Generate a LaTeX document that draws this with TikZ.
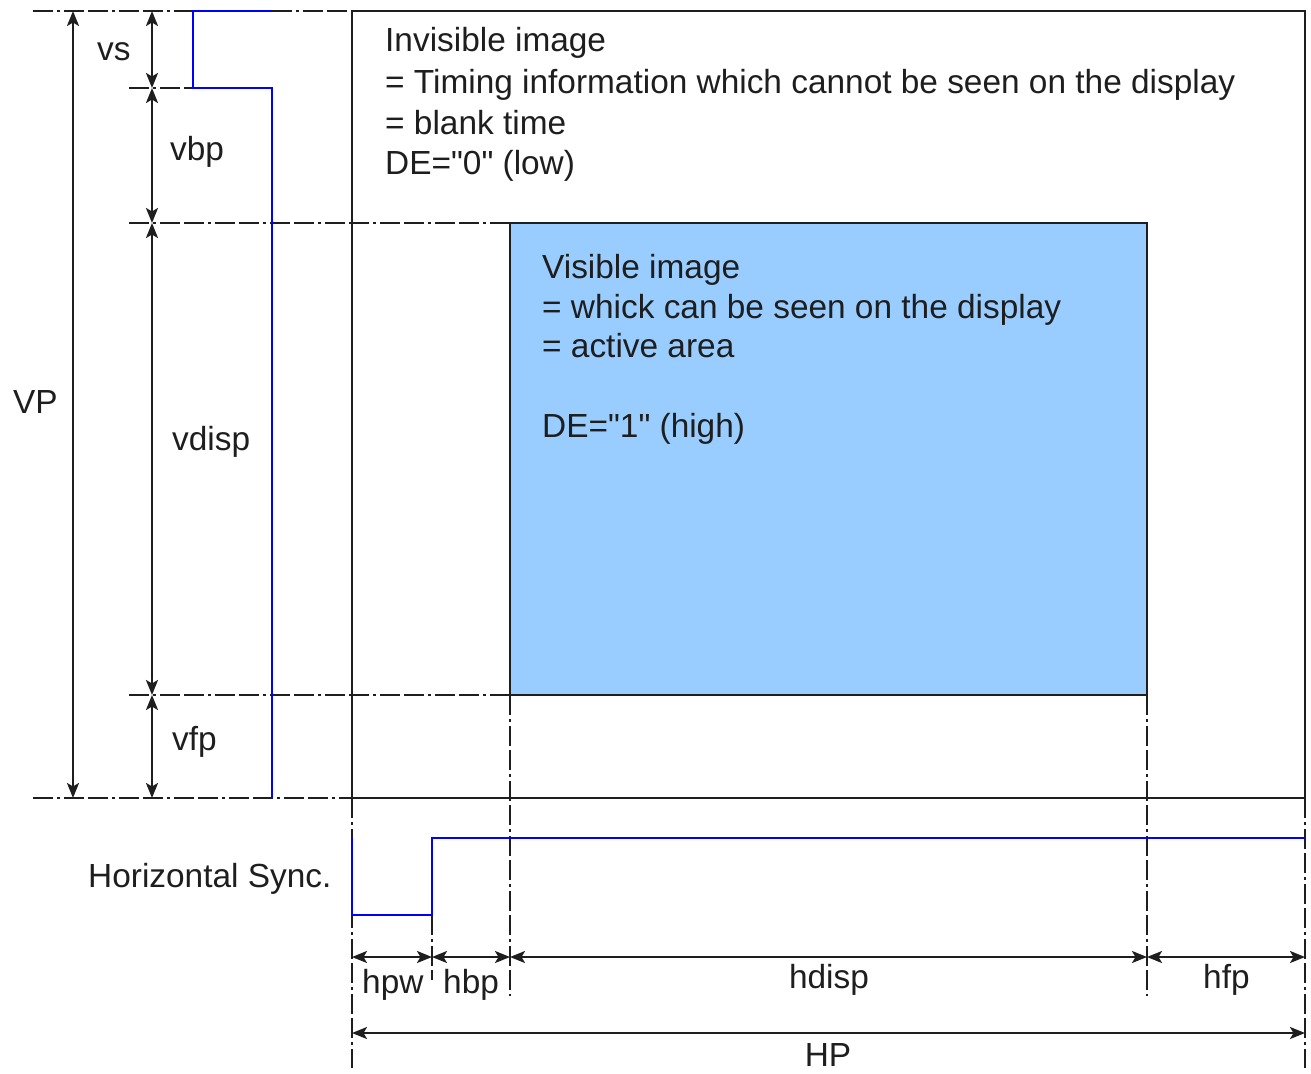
\documentclass[tikz,border=0pt]{standalone}
\usepackage{fontspec}
\setmainfont{Liberation Sans}
\usetikzlibrary{arrows.meta}
\definecolor{activearea}{HTML}{99CCFF}
\definecolor{inkline}{HTML}{1E1E1E}
\begin{document}
\begin{tikzpicture}[x=1pt,y=-1pt,
  ln/.style={line width=2.3pt, draw=inkline},
  dd/.style={ln, dash pattern=on 20pt off 4pt on 3pt off 4pt on 20pt off 4pt},
  sig/.style={line width=2.2pt, draw=blue},
  dim/.style={ln, {Stealth[length=15pt,width=12pt,inset=3.5pt]}-{Stealth[length=15pt,width=12pt,inset=3.5pt]}},
  lbl/.style={font=\fontsize{33.4}{40.5}\selectfont, text=inkline, inner sep=0pt, anchor=base west},
  clbl/.style={lbl, anchor=base},
]
\useasboundingbox (0,0) rectangle (1311,1073);

% frame of the whole period and active area
\fill[activearea] (510,223) rectangle (1147,695);
\draw[ln] (352,11) rectangle (1305,798);
\draw[ln] (510,223) rectangle (1147,695);

% dash-dot reference lines
\draw[dd] (33,11) -- (193,11);
\draw[dd] (272,11) -- (352,11);
\draw[dd] (129,88) -- (193,88);
\draw[dd] (129,223) -- (510,223);
\draw[dd] (129,695) -- (510,695);
\draw[dd] (33,798) -- (352,798);
\draw[dd] (510,695) -- (510,996);
\draw[dd] (1147,695) -- (1147,996);
\draw[dd] (352,798) -- (352,1068);
\draw[dd] (1305,798) -- (1305,1068);
\draw[dd] (432,915) -- (432,980);

% vertical sync signal
\draw[sig] (272,11) -- (193,11) -- (193,88) -- (272,88) -- (272,798);
% horizontal sync signal
\draw[sig] (352,838) -- (352,915) -- (432,915) -- (432,838) -- (1305,838);

% dimension points
\coordinate (p0) at (73,11);
\coordinate (p1) at (73,798);
\coordinate (v0) at (152,11);
\coordinate (v1) at (152,88);
\coordinate (v2) at (152,223);
\coordinate (v3) at (152,695);
\coordinate (v4) at (152,798);
\coordinate (h0) at (352,957);
\coordinate (h1) at (432,957);
\coordinate (h2) at (510,957);
\coordinate (h3) at (1147,957);
\coordinate (h4) at (1305,957);
\coordinate (q0) at (352,1033);
\coordinate (q1) at (1305,1033);

\draw[dim] (p0) -- (p1);
\draw[dim] (v0) -- (v1);
\draw[dim] (v1) -- (v2);
\draw[dim] (v2) -- (v3);
\draw[dim] (v3) -- (v4);
\draw[dim] (h0) -- (h1);
\draw[dim] (h1) -- (h2);
\draw[dim] (h2) -- (h3);
\draw[dim] (h3) -- (h4);
\draw[dim] (q0) -- (q1);

% labels
\node[lbl] (lVP) at (13,413) {VP};
\node[lbl] (lvs) at (97,60) {vs};
\node[lbl] (lvbp) at (170,160) {vbp};
\node[lbl] (lvdisp) at (172,450) {vdisp};
\node[lbl] (lvfp) at (172,750) {vfp};
\node[lbl] (lhs) at (88,887) {Horizontal Sync.};
\node[lbl] (lhpw) at (362,993) {hpw};
\node[lbl] (lhbp) at (443,993) {hbp};
\node[clbl] (lhdisp) at (829,988) {hdisp};
\node[lbl] (lhfp) at (1203,988) {hfp};
\node[clbl] (lHP) at (828,1066) {HP};

\node[lbl] (inv1) at (385,52) {Invisible image};
\node[lbl] (inv2) at (385,93) {= Timing information which cannot be seen on the display};
\node[lbl] (inv3) at (385,134) {= blank time};
\node[lbl] (inv4) at (385,174) {DE=\textquotedbl0\textquotedbl{} (low)};

\node[lbl] (vis1) at (542,278) {Visible image};
\node[lbl] (vis2) at (542,318) {= whick can be seen on the display};
\node[lbl] (vis3) at (542,357) {= active area};
\node[lbl] (vis4) at (542,437) {DE=\textquotedbl1\textquotedbl{} (high)};
\end{tikzpicture}
\end{document}
